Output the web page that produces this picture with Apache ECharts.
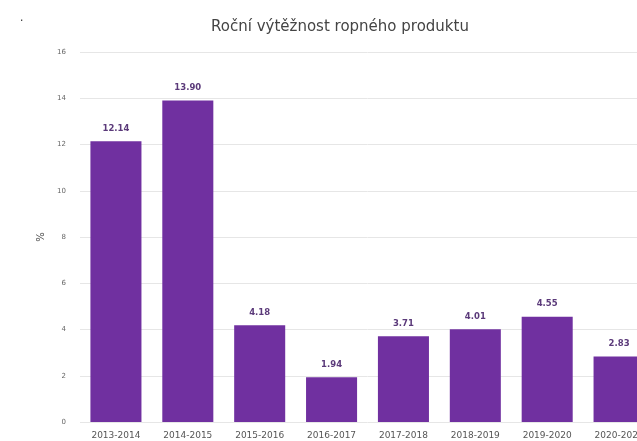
<!DOCTYPE html>
<html>
<head>
<meta charset="utf-8">
<script src="https://cdn.jsdelivr.net/npm/echarts@6/dist/echarts.min.js"></script>
<style>
    html, body { margin: 0; padding: 0; overflow: hidden; background: #fff; }
    #chart { width: 680px; height: 441px; }
</style>
</head>
<body>
<div id="chart"></div>
<script>
    var categories = ['2013-2014', '2014-2015', '2015-2016', '2016-2017', '2017-2018', '2018-2019', '2019-2020', '2020-2021']
    var values = [12.14, 13.90, 4.18, 1.94, 3.71, 4.01, 4.55, 2.83]

    var myChart = echarts.init(document.getElementById('chart'))
    var option = {
        animation: false,
        textStyle: { fontFamily: 'DejaVu Sans' },
        title: {
            text: 'Roční výtěžnost ropného produktu',
            left: 'center',
            top: 15,
            textStyle: {
                fontFamily: 'DejaVu Sans',
                fontSize: 15,
                fontWeight: 'normal',
                color: '#444'
            }
        },
        graphic: [{
            type: 'text',
            left: 20,
            top: 12,
            style: { text: '.', fontSize: 12, fill: '#333' }
        }],
        grid: {
            left: 80,
            right: 25,
            top: 52,
            bottom: 19
        },
        xAxis: {
            type: 'category',
            data: categories,
            axisLine: { show: false },
            axisTick: { show: false },
            axisLabel: {
                fontSize: 9,
                color: '#555',
                margin: 9,
                interval: 0
            }
        },
        yAxis: {
            type: 'value',
            min: 0,
            max: 16,
            interval: 2,
            name: '%',
            nameLocation: 'middle',
            nameRotate: 90,
            nameGap: 34,
            nameTextStyle: { fontSize: 10, color: '#444' },
            axisLabel: { fontSize: 7, color: '#666', margin: 14 },
            splitLine: { lineStyle: { color: '#e6e6e6' } }
        },
        series: [{
            type: 'bar',
            data: values,
            barWidth: '71%',
            itemStyle: { color: '#7030a0' },
            label: {
                show: true,
                position: 'top',
                distance: 8,
                formatter: function (p) { return p.value.toFixed(2) },
                fontSize: 8.5,
                fontWeight: 'bold',
                color: '#5b3a7a'
            }
        }]
    }
    myChart.setOption(option)
</script>
</body>
</html>
